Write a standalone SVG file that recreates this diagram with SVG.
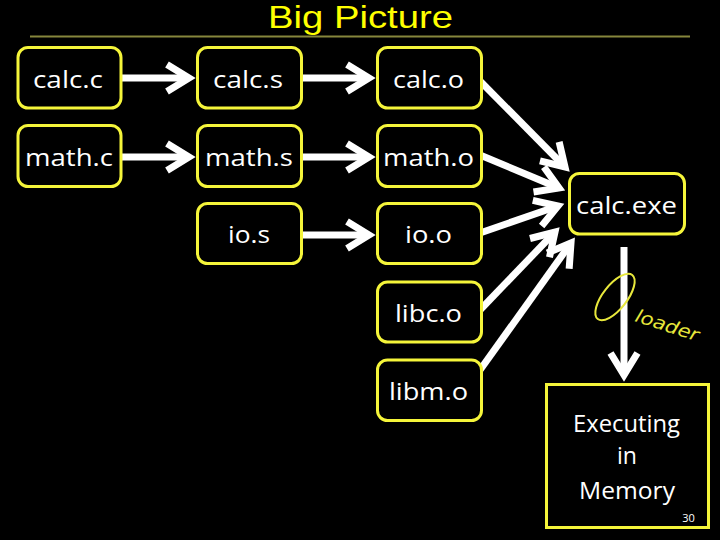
<svg xmlns="http://www.w3.org/2000/svg" width="720" height="540" viewBox="0 0 720 540">
<style>
.box{fill:#000;stroke:#f5f53a;stroke-width:3}
.lbl{font-family:"Open Sans","Noto Sans",sans-serif;font-size:23px;fill:#fff;text-anchor:middle}
.arr{fill:none;stroke:#fff;stroke-width:7;marker-end:url(#ah)}
</style>
<defs>
<marker id="ah" markerUnits="userSpaceOnUse" markerWidth="60" markerHeight="60" refX="0" refY="0" viewBox="-30 -30 60 60" orient="auto" overflow="visible">
<path d="M-22,-13.5 L0,0 L-22,13.5" fill="none" stroke="#fff" stroke-width="7" stroke-linejoin="miter" stroke-miterlimit="10"/>
</marker>
</defs>
<rect x="0" y="0" width="720" height="540" fill="#000"/>
<g id="title">
<text x="360.5" y="28" font-family="Liberation Sans, Arial, sans-serif" font-size="32" fill="#ffff00" text-anchor="middle" textLength="185" lengthAdjust="spacingAndGlyphs">Big Picture</text>
<line x1="30" y1="36.5" x2="690" y2="36.5" stroke="#86863c" stroke-width="2"/>
</g>
<g id="connectors">
<path class="arr" d="M121,78 L189,78"/>
<path class="arr" d="M302,78 L369,78"/>
<path class="arr" d="M121,157 L189,157"/>
<path class="arr" d="M302,157 L369,157"/>
<path class="arr" d="M302,235 L369,235"/>
<path class="arr" d="M479,80 L565,167"/>
<path class="arr" d="M480,155 L559,188"/>
<path class="arr" d="M480,233 L558,206"/>
<path class="arr" d="M480,310 L555,232"/>
<path class="arr" d="M480,370 L571,243"/>
<path class="arr" d="M624,247 L624,375"/>
</g>
<g id="n-calc-c"><rect class="box" x="18" y="47.5" width="103" height="60.5" rx="10"/><text class="lbl" x="68" y="88" textLength="70" lengthAdjust="spacingAndGlyphs">calc.c</text></g>
<g id="n-calc-s"><rect class="box" x="197.5" y="47.5" width="104" height="60.5" rx="10"/><text class="lbl" x="248" y="88" textLength="70" lengthAdjust="spacingAndGlyphs">calc.s</text></g>
<g id="n-calc-o"><rect class="box" x="377.5" y="47.5" width="104" height="60.5" rx="10"/><text class="lbl" x="428.5" y="88" textLength="71" lengthAdjust="spacingAndGlyphs">calc.o</text></g>
<g id="n-math-c"><rect class="box" x="18" y="125.5" width="103" height="61" rx="10"/><text class="lbl" x="69" y="165.5" textLength="88" lengthAdjust="spacingAndGlyphs">math.c</text></g>
<g id="n-math-s"><rect class="box" x="197.5" y="125.5" width="104" height="61" rx="10"/><text class="lbl" x="249" y="165.5" textLength="88" lengthAdjust="spacingAndGlyphs">math.s</text></g>
<g id="n-math-o"><rect class="box" x="377.5" y="125.5" width="104" height="61" rx="10"/><text class="lbl" x="428.5" y="165.5" textLength="91" lengthAdjust="spacingAndGlyphs">math.o</text></g>
<g id="n-io-s"><rect class="box" x="197.5" y="203.5" width="104" height="60" rx="10"/><text class="lbl" x="249" y="243" textLength="42" lengthAdjust="spacingAndGlyphs">io.s</text></g>
<g id="n-io-o"><rect class="box" x="377.5" y="203.5" width="104" height="60" rx="10"/><text class="lbl" x="428.5" y="243" textLength="47" lengthAdjust="spacingAndGlyphs">io.o</text></g>
<g id="n-libc-o"><rect class="box" x="377.5" y="282" width="104" height="60" rx="10"/><text class="lbl" x="428.5" y="322" textLength="67" lengthAdjust="spacingAndGlyphs">libc.o</text></g>
<g id="n-libm-o"><rect class="box" x="377.5" y="360" width="104" height="60.5" rx="10"/><text class="lbl" x="428.5" y="400" textLength="79" lengthAdjust="spacingAndGlyphs">libm.o</text></g>
<g id="n-calc-exe"><rect class="box" x="569.5" y="173.5" width="115" height="60.5" rx="10"/><text class="lbl" x="626.5" y="214" textLength="101" lengthAdjust="spacingAndGlyphs">calc.exe</text></g>
<g id="n-memory">
<rect x="546.5" y="384.5" width="162" height="143" fill="#000" stroke="#f5f53a" stroke-width="3"/>
<text class="lbl" x="626.5" y="432" textLength="107" lengthAdjust="spacingAndGlyphs">Executing</text>
<text class="lbl" x="627" y="464" textLength="20" lengthAdjust="spacingAndGlyphs">in</text>
<text class="lbl" x="627" y="499" textLength="96" lengthAdjust="spacingAndGlyphs">Memory</text>
<text x="688.5" y="522" font-family="Open Sans, Noto Sans, sans-serif" font-size="11" fill="#fff" text-anchor="middle">30</text>
</g>
<g id="loader-note">
<ellipse cx="615" cy="297" rx="28" ry="12" transform="rotate(-52 615 297)" fill="none" stroke="#e8e83c" stroke-width="2"/>
<text x="634" y="321" font-family="DejaVu Sans, sans-serif" font-style="italic" font-size="18" fill="#e8e83c" transform="rotate(18 634 321)" textLength="66" lengthAdjust="spacingAndGlyphs">loader</text>
</g>
</svg>
